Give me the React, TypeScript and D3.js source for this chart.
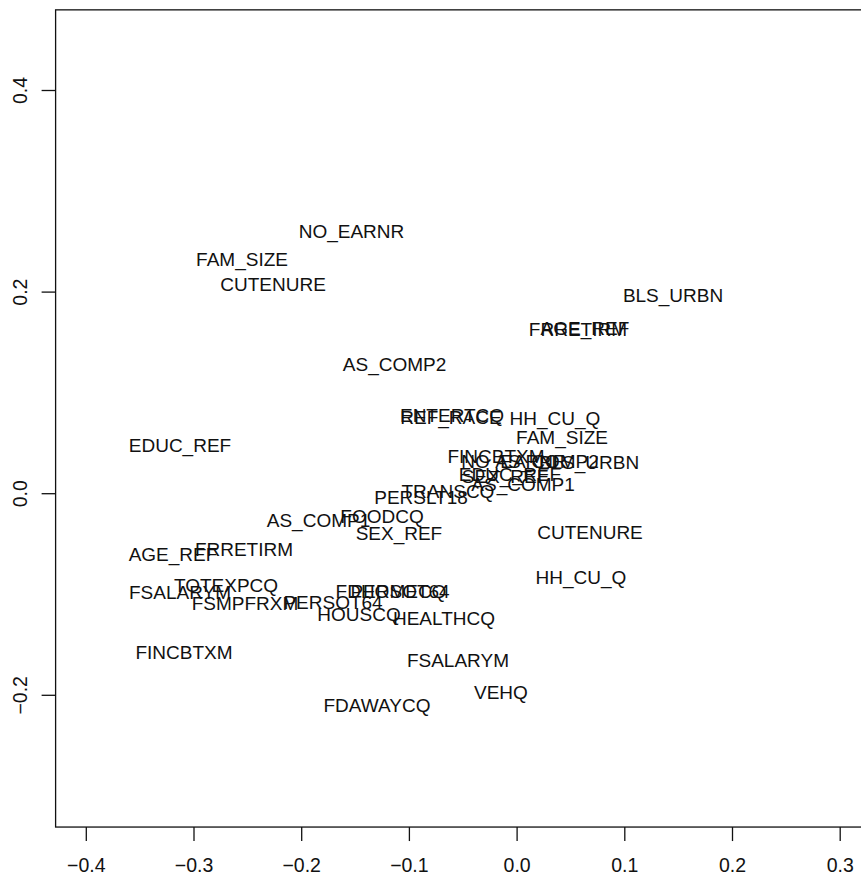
import React from "react";
import * as d3 from "d3";

const labels = [
  "NO_EARNR", "FAM_SIZE", "CUTENURE", "AS_COMP2", "EDUC_REF", "AGE_REF", "FRRETIRM",
  "FSALARYM", "TOTEXPCQ", "FSMPFRXM", "PERSOT64", "HOUSCQ", "HEALTHCQ", "FINCBTXM",
  "FDAWAYCQ", "FSALARYM", "VEHQ", "AS_COMP1", "FOODCQ", "SEX_REF", "CUTENURE",
  "HH_CU_Q", "FDHOMECQ", "PERSOT64", "PERSLT18", "TRANSCQ", "ENTERTCQ", "REF_RACE",
  "HH_CU_Q", "FAM_SIZE", "BLS_URBN", "AGE_REF", "FRRETIRM", "FINCBTXM", "NO_EARNR",
  "AS_COMP2", "BLS_URBN", "EDUC_REF", "SEX_REF", "AS_COMP1",
];
const xValues = [
  -0.1538, -0.2554, -0.2266, -0.1138, -0.3130, -0.3195, -0.2536,
  -0.3130, -0.2703, -0.2527, -0.1709, -0.1468, -0.0679, -0.3093,
  -0.1301, -0.0549, -0.0150, -0.1844, -0.1254, -0.1097, 0.0677,
  0.0593, -0.1171, -0.1087, -0.0892, -0.0642, -0.0604, -0.0614,
  0.0352, 0.0417, 0.1448, 0.0630, 0.0565, -0.0196, -0.0029,
  0.0278, 0.0668, -0.0066, -0.0112, 0.0055,
];
const yValues = [
  0.2606, 0.2328, 0.2080, 0.1287, 0.0483, -0.0598, -0.0549,
  -0.0975, -0.0906, -0.1084, -0.1074, -0.1193, -0.1233, -0.1570,
  -0.2096, -0.1650, -0.1967, -0.0261, -0.0221, -0.0390, -0.0380,
  -0.0826, -0.0965, -0.0965, -0.0033, 0.0027, 0.0783, 0.0762,
  0.0751, 0.0563, 0.1971, 0.1644, 0.1634, 0.0374, 0.0324,
  0.0324, 0.0314, 0.0195, 0.0176, 0.0096,
];
const xTicks = [-0.4, -0.3, -0.2, -0.1, 0.0, 0.1, 0.2, 0.3];
const yTicks = [-0.2, 0.0, 0.2, 0.4];
const xLim = [-0.4285, 0.33];
const yLim = [-0.3307, 0.48];

const W = 861;
const H = 878;
const FONT = "'Liberation Sans', Arial, sans-serif";

export default function App() {
  const x = d3.scaleLinear().domain([-0.4, 0.3]).range([86.3, 840.2]);
  const y = d3.scaleLinear().domain([-0.2, 0.4]).range([695.3, 90.5]);
  const fmt = d3.format(".1f");
  const left = x(xLim[0]);
  const right = x(xLim[1]);
  const top = y(yLim[1]);
  const bottom = y(yLim[0]);
  return (
    <svg
      width={W}
      height={H}
      style={{ position: "fixed", left: 0, top: 0, background: "#fff" }}
      fontFamily={FONT}
    >
      <rect x={0} y={0} width={W} height={H} fill="#fff" />
      <rect
        x={left}
        y={top}
        width={right - left}
        height={bottom - top}
        fill="none"
        stroke="#111"
        strokeWidth={1.3}
      />
      {xTicks.map((t) => (
        <g key={"xt" + t}>
          <line x1={x(t)} x2={x(t)} y1={bottom} y2={bottom + 14} stroke="#111" strokeWidth={1.3} />
          <text x={x(t)} y={bottom + 45} textAnchor="middle" fontSize={19.5} fill="#111">
            {fmt(t)}
          </text>
        </g>
      ))}
      {yTicks.map((t) => (
        <g key={"yt" + t}>
          <line x1={left - 14} x2={left} y1={y(t)} y2={y(t)} stroke="#111" strokeWidth={1.3} />
          <text
            transform={`translate(27,${y(t)}) rotate(-90)`}
            textAnchor="middle"
            fontSize={19.5}
            fill="#111"
          >
            {fmt(t)}
          </text>
        </g>
      ))}
      {labels.map((l, i) => (
        <text
          key={"lb" + i}
          x={x(xValues[i])}
          y={y(yValues[i])}
          dy="0.36em"
          textAnchor="middle"
          fontSize={19}
          fill="#111"
        >
          {l}
        </text>
      ))}
    </svg>
  );
}
